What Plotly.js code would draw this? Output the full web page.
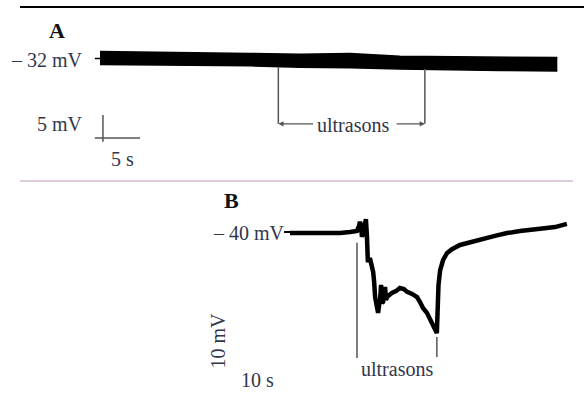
<!DOCTYPE html>
<html>
<head>
<meta charset="utf-8">
<script src="https://cdn.plot.ly/plotly-3.0.1.min.js"></script>
<style>html,body{margin:0;padding:0;background:#fff;}#chart{width:584px;height:401px;}</style>
</head>
<body>
<div id="chart"></div>
<script>
// ---- Panel A data (time in s, membrane potential in mV) ----
var timeA = [0, 6.8, 13.5, 20.3, 27.0, 33.8, 40.5, 47.3, 54.1, 61.8];
var upperA = [-30.5, -30.6, -30.8, -30.9, -31.1, -30.9, -31.5, -31.6, -31.7, -31.8];
var lowerA = [-33.3, -33.4, -33.5, -33.6, -33.9, -34.0, -34.3, -34.5, -34.6, -34.7];
var usA = [24.1, 43.9];            // ultrasound on / off (s)
var usA_bottom = [-33.8, -34.3];   // trace bottom at the markers (mV)
var restA = -32;                   // labelled potential (mV)
var scaleA_mV = 5, scaleA_s = 5;

// ---- Panel B data ----
var timeB = [0, 3.0, 6.1, 9.1, 12.1, 15.2, 18.2, 20.3, 20.9, 21.2, 21.5, 21.8, 22.4, 23.0, 23.3, 23.6,
  24.2, 24.8, 25.2, 25.5, 25.8, 26.4, 26.7, 27.0, 27.3, 27.6, 27.9, 28.2, 28.8, 29.1, 29.4, 30.9, 32.1,
  33.3, 34.5, 35.5, 37.0, 38.5, 39.4, 40.3, 41.5, 42.4, 43.3, 43.9, 44.5, 44.8, 45.0, 45.5, 46.4, 47.6,
  49.1, 51.5, 54.5, 57.6, 62.1, 65.8, 69.7, 75.8, 80.3, 83.9];
var voltB = [-40.3, -40.3, -40.6, -40.6, -40.6, -40.3, -40.0, -39.7, -38.3, -37.1, -38.0, -41.4, -39.4,
  -36.3, -40.9, -48.6, -47.4, -49.7, -51.4, -54.3, -58.6, -61.7, -63.1, -60.9, -59.4, -55.1, -60.3, -60.0,
  -55.7, -59.4, -58.6, -57.4, -56.9, -56.0, -56.3, -57.1, -57.7, -58.6, -60.0, -61.7, -63.1, -64.6, -66.3,
  -67.7, -68.9, -59.4, -55.1, -50.9, -48.0, -46.0, -44.9, -43.7, -42.9, -42.0, -41.1, -40.3, -39.7, -39.1,
  -38.6, -37.7];
var usB = [20.3, 44.5];
var usB_top = [-43.1, -70.0];
var restB = -40;

var labels = {A: 'A', B: 'B', restA: '– 32 mV', restB: '– 40 mV', us: 'ultrasons',
  scaleA_mV: '5 mV', scaleA_s: '5 s', scaleB_mV: '10 mV', scaleB_s: '10 s'};

// ---- layout geometry (pixels) ----
var W = 584, H = 401;
var A0x = 100, A0y = 58.5, Apxs = 7.4, Apxmv = 4.6;
var B0x = 290, B0y = 232, Bpxs = 3.3, Bpxmv = 3.5;
var xA = [-A0x / Apxs, (W - A0x) / Apxs];
var yA = [restA - (H - A0y) / Apxmv, restA + A0y / Apxmv];
var xB = [-B0x / Bpxs, (W - B0x) / Bpxs];
var yB = [restB - (H - B0y) / Bpxmv, restB + B0y / Bpxmv];

var ink = '#31364a', gray = '#555';
var serif = 'Liberation Serif, Times New Roman, serif';
var FS = 20;

var traces = [
  {x: timeA, y: lowerA, xaxis: 'x', yaxis: 'y', mode: 'lines', line: {color: '#000', width: 1.5}, hoverinfo: 'skip'},
  {x: timeA, y: upperA, xaxis: 'x', yaxis: 'y', mode: 'lines', fill: 'tonexty', fillcolor: '#000',
   line: {color: '#000', width: 1.5}, hoverinfo: 'skip'},
  {x: [usA[0], usA[0]], y: [usA_bottom[0], -46.2], xaxis: 'x', yaxis: 'y', mode: 'lines', line: {color: gray, width: 1.5}},
  {x: [usA[1], usA[1]], y: [usA_bottom[1], -46.2], xaxis: 'x', yaxis: 'y', mode: 'lines', line: {color: gray, width: 1.5}},
  {x: [0.4, 0.4], y: [-49.3 + scaleA_mV, -50.1], xaxis: 'x', yaxis: 'y', mode: 'lines', line: {color: gray, width: 1.5}},
  {x: [-0.7, 0.4 + scaleA_s], y: [-49.3, -49.3], xaxis: 'x', yaxis: 'y', mode: 'lines', line: {color: gray, width: 1.5}},
  {x: [-0.7, 0], y: [restA, restA], xaxis: 'x', yaxis: 'y', mode: 'lines', line: {color: '#000', width: 1.5}},
  {x: timeB, y: voltB, xaxis: 'x2', yaxis: 'y2', mode: 'lines', line: {color: '#000', width: 4.5}, hoverinfo: 'skip'},
  {x: [-1.8, 0], y: [restB, restB], xaxis: 'x2', yaxis: 'y2', mode: 'lines', line: {color: '#000', width: 2}},
  {x: [usB[0], usB[0]], y: [usB_top[0], -76.0], xaxis: 'x2', yaxis: 'y2', mode: 'lines', line: {color: gray, width: 1.5}},
  {x: [usB[1], usB[1]], y: [usB_top[1], -75.7], xaxis: 'x2', yaxis: 'y2', mode: 'lines', line: {color: gray, width: 1.5}}
];

var txt = function (size, color) { return {family: serif, size: size, color: color}; };
var annotations = [
  {xref: 'x', yref: 'y', x: -5.8, y: -25.9, text: '<b>' + labels.A + '</b>', showarrow: false, font: txt(22, '#111')},
  {xref: 'x', yref: 'y', x: -2.0, y: restA - 0.3, text: labels.restA, xanchor: 'right', showarrow: false, font: txt(FS, ink)},
  {xref: 'x', yref: 'y', x: -2.0, y: -46.3, text: labels.scaleA_mV, xanchor: 'right', showarrow: false, font: txt(FS, ink)},
  {xref: 'x', yref: 'y', x: 3.0, y: -53.9, text: labels.scaleA_s, showarrow: false, font: txt(FS, ink)},
  {xref: 'x', yref: 'y', x: 34.2, y: -46.4, text: labels.us, showarrow: false, font: txt(FS, ink)},
  {xref: 'x', yref: 'y', axref: 'x', ayref: 'y', x: usA[0], y: -46.2, ax: 29.0, ay: -46.2, text: '', showarrow: true,
   arrowhead: 2, arrowsize: 0.8, arrowwidth: 1.3, arrowcolor: gray, standoff: 0},
  {xref: 'x', yref: 'y', axref: 'x', ayref: 'y', x: usA[1], y: -46.2, ax: 39.9, ay: -46.2, text: '', showarrow: true,
   arrowhead: 2, arrowsize: 0.8, arrowwidth: 1.3, arrowcolor: gray, standoff: 0},
  {xref: 'x2', yref: 'y2', x: -17.6, y: -30.9, text: '<b>' + labels.B + '</b>', showarrow: false, font: txt(22, '#111')},
  {xref: 'x2', yref: 'y2', x: -1.0, y: restB - 0.3, text: labels.restB, xanchor: 'right', showarrow: false, font: txt(FS, ink)},
  {xref: 'x2', yref: 'y2', x: 32.4, y: -79.0, text: labels.us, showarrow: false, font: txt(FS, ink)},
  {xref: 'x2', yref: 'y2', x: -21.7, y: -70.9, text: labels.scaleB_mV, textangle: -90, showarrow: false, font: txt(FS, ink)},
  {xref: 'x2', yref: 'y2', x: -9.7, y: -82.3, text: labels.scaleB_s, showarrow: false, font: txt(FS, ink)}
];

var shapes = [
  {type: 'line', xref: 'paper', yref: 'paper', x0: 20 / W, x1: 1, y0: 1 - 7 / H, y1: 1 - 7 / H, line: {color: '#000', width: 2}},
  {type: 'line', xref: 'paper', yref: 'paper', x0: 20 / W, x1: 573 / W, y0: 1 - 181 / H, y1: 1 - 181 / H, line: {color: '#dccbdb', width: 2}}
];

var hidden = {visible: false, fixedrange: true};
var layout = {
  width: W, height: H, margin: {l: 0, r: 0, t: 0, b: 0},
  paper_bgcolor: '#fff', plot_bgcolor: 'rgba(0,0,0,0)', showlegend: false,
  xaxis: Object.assign({domain: [0, 1], range: xA, anchor: 'y'}, hidden),
  yaxis: Object.assign({domain: [0, 1], range: yA, anchor: 'x'}, hidden),
  xaxis2: Object.assign({domain: [0, 1], range: xB, anchor: 'y2'}, hidden),
  yaxis2: Object.assign({domain: [0, 1], range: yB, anchor: 'x2'}, hidden),
  annotations: annotations, shapes: shapes
};
Plotly.newPlot('chart', traces, layout, {staticPlot: true, displayModeBar: false});
</script>
</body>
</html>
